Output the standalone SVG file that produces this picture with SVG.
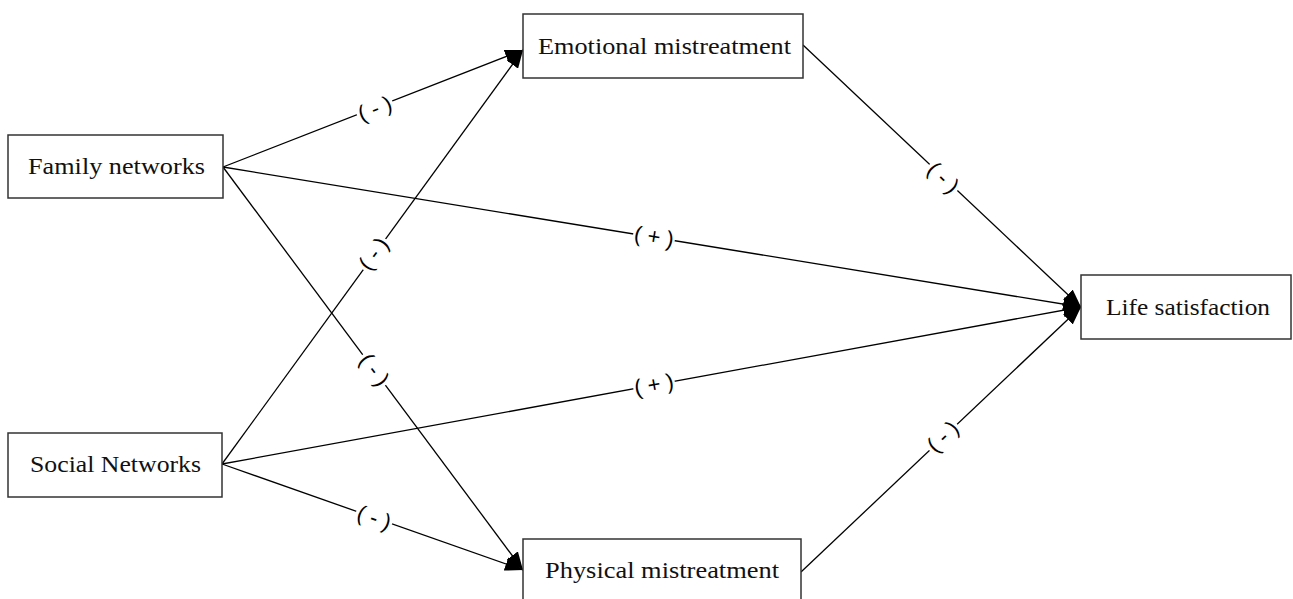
<svg xmlns="http://www.w3.org/2000/svg" width="1293" height="599" viewBox="0 0 1293 599">
<style>
.box{fill:#fff;stroke:#333;stroke-width:1.5}
.nt{font-family:"Liberation Serif",serif;font-size:23px;fill:#111;text-anchor:middle}
.edge{stroke:#000;stroke-width:1.3;fill:none;marker-end:url(#arr)}
.lbl{font-family:"Liberation Sans",Arial,sans-serif;font-size:22px;fill:#000;text-anchor:middle}
.knock{fill:#fff}
</style>
<defs>
<marker id="arr" markerUnits="userSpaceOnUse" markerWidth="18" markerHeight="14" refX="18" refY="7" orient="auto">
<path d="M0,0 L18,7 L0,14 z" fill="#000"/>
</marker>
</defs>
<rect width="1293" height="599" fill="#fff"/>
<g id="connectors">
<line class="edge" x1="223" y1="167" x2="523" y2="50"/>
<line class="edge" x1="222" y1="464" x2="523" y2="50"/>
<line class="edge" x1="223" y1="167" x2="523" y2="570"/>
<line class="edge" x1="222" y1="464" x2="523" y2="570"/>
<line class="edge" x1="223" y1="167" x2="1081" y2="307"/>
<line class="edge" x1="222" y1="464" x2="1081" y2="307"/>
<line class="edge" x1="803" y1="45" x2="1081" y2="307"/>
<line class="edge" x1="801" y1="572" x2="1081" y2="307"/>
<g transform="translate(375,109) rotate(-21.3)"><rect class="knock" x="-19" y="-5" width="38" height="10"/><text class="lbl" y="7">( - )</text></g>
<g transform="translate(374,254) rotate(-54)"><rect class="knock" x="-19" y="-5" width="38" height="10"/><text class="lbl" y="7">( - )</text></g>
<g transform="translate(374,370) rotate(53.3)"><rect class="knock" x="-19" y="-5" width="38" height="10"/><text class="lbl" y="7">( - )</text></g>
<g transform="translate(374,518) rotate(19.4)"><rect class="knock" x="-19" y="-5" width="38" height="10"/><text class="lbl" y="7">( - )</text></g>
<g transform="translate(654,237) rotate(9.3)"><rect class="knock" x="-21" y="-5" width="42" height="10"/><text class="lbl" y="7">( + )</text></g>
<g transform="translate(654,385) rotate(-10.4)"><rect class="knock" x="-21" y="-5" width="42" height="10"/><text class="lbl" y="7">( + )</text></g>
<g transform="translate(943,178) rotate(43.3)"><rect class="knock" x="-19" y="-5" width="38" height="10"/><text class="lbl" y="7">( - )</text></g>
<g transform="translate(943,437) rotate(-43.4)"><rect class="knock" x="-19" y="-5" width="38" height="10"/><text class="lbl" y="7">( - )</text></g>
</g>
<g id="family">
<rect class="box" x="8" y="135" width="215" height="63"/>
<text class="nt" x="116.5" y="174" textLength="177" lengthAdjust="spacingAndGlyphs">Family networks</text>
</g>
<g id="social">
<rect class="box" x="8" y="433" width="214" height="64"/>
<text class="nt" x="115.5" y="472" textLength="171" lengthAdjust="spacingAndGlyphs">Social Networks</text>
</g>
<g id="emotional">
<rect class="box" x="523" y="14" width="280" height="64"/>
<text class="nt" x="664.5" y="54" textLength="253" lengthAdjust="spacingAndGlyphs">Emotional mistreatment</text>
</g>
<g id="physical">
<rect class="box" x="523" y="539" width="278" height="70"/>
<text class="nt" x="662" y="578" textLength="234" lengthAdjust="spacingAndGlyphs">Physical mistreatment</text>
</g>
<g id="life">
<rect class="box" x="1081" y="275" width="210" height="64"/>
<text class="nt" x="1188" y="315" textLength="164" lengthAdjust="spacingAndGlyphs">Life satisfaction</text>
</g>
</svg>
